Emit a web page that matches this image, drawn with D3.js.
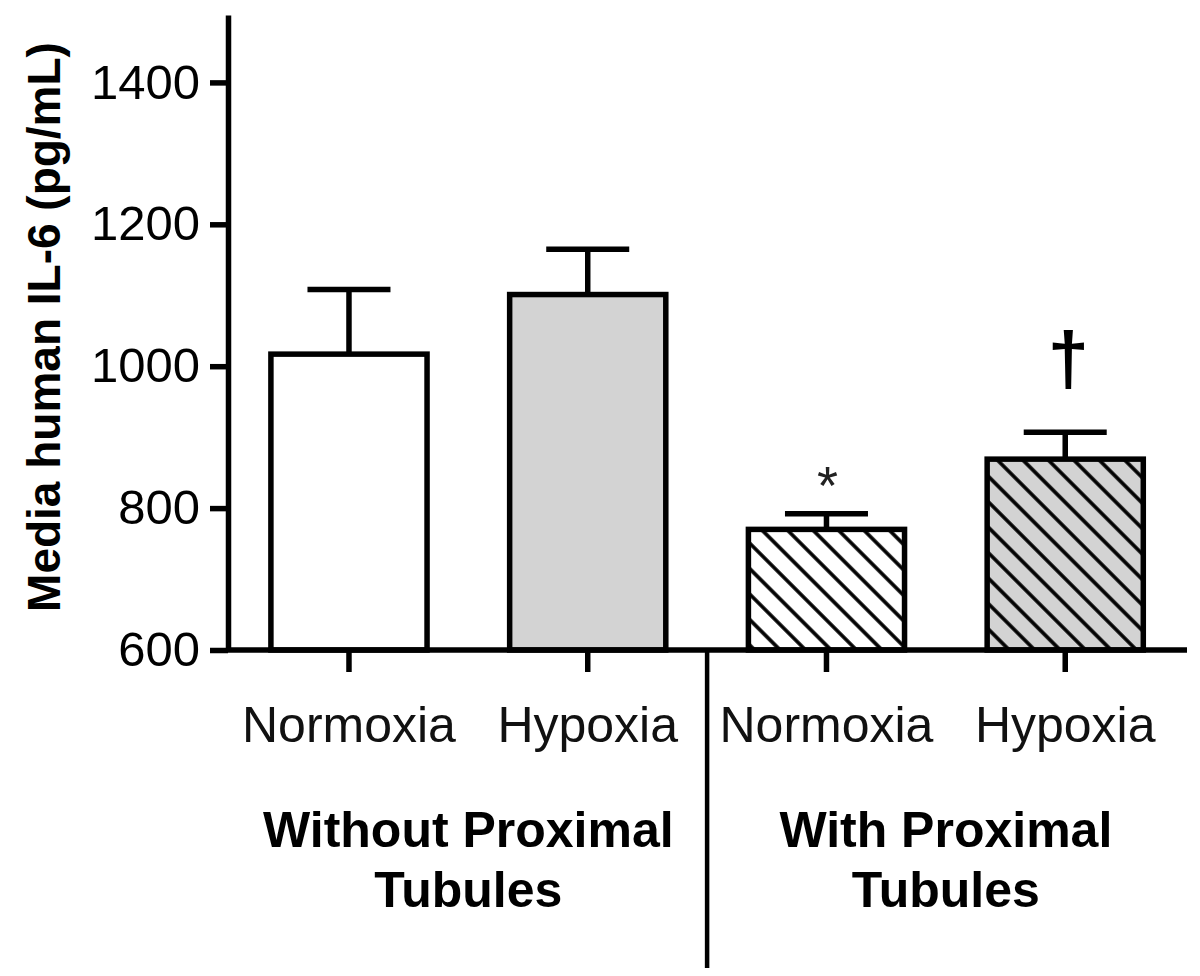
<!DOCTYPE html>
<html>
<head>
<meta charset="utf-8">
<script src="https://cdn.jsdelivr.net/npm/d3@7"></script>
<style>
    html, body { margin: 0; padding: 0; background: #fff; }
    svg { display: block; font-family: "Liberation Sans", Arial, sans-serif; }
</style>
</head>
<body>
<div id="chart"></div>
<script>
// IL-6 bar chart data
const barIds = ['wo-norm', 'wo-hyp', 'w-norm', 'w-hyp'];
const conditionLabels = ['Normoxia', 'Hypoxia', 'Normoxia', 'Hypoxia'];
const means = [1017, 1101, 770, 869];
const sems = [91, 64, 22, 38];
const fills = ['white', 'gray', 'white', 'gray'];
const hatched = [false, false, true, true];
const marks = ['', '', '*', '†'];
const groupLabels = [['Without Proximal', 'Tubules'], ['With Proximal', 'Tubules']];
const yTicks = [600, 800, 1000, 1200, 1400];
const yDomain = [600, 1495];
const yLabel = 'Media human IL-6 (pg/mL)';

const width = 1200;
const height = 976;
const grey = '#d3d3d3';
const lineW = 5.5;
const hatchGap = 18;

const svg = d3.select('#chart').append('svg')
    .attr('width', width)
    .attr('height', height);

// Scales
const x = d3.scaleBand()
    .domain(barIds)
    .range([229.6, 1184.6])
    .paddingInner(0.346)
    .paddingOuter(0.173);

const y = d3.scaleLinear()
    .domain(yDomain)
    .range([650, 15]);

// Hatch patterns for the "with tubules" bars
const defs = svg.append('defs');
['white', 'gray'].forEach(kind => {
    const p = defs.append('pattern')
        .attr('id', `hatch-${kind}`)
        .attr('patternUnits', 'userSpaceOnUse')
        .attr('width', hatchGap)
        .attr('height', hatchGap)
        .attr('patternTransform', 'rotate(-45)');
    p.append('rect')
        .attr('width', hatchGap)
        .attr('height', hatchGap)
        .attr('fill', kind === 'gray' ? grey : '#fff');
    p.append('line')
        .attr('x1', 2).attr('x2', 2)
        .attr('y1', 0).attr('y2', hatchGap)
        .attr('stroke', '#000')
        .attr('stroke-width', 3.6);
});

const fillFor = i => hatched[i]
    ? `url(#hatch-${fills[i]})`
    : (fills[i] === 'gray' ? grey : '#fff');

// Error bars (upper only)
const bars = barIds.map((id, i) => ({ id, i, mean: means[i], sem: sems[i] }));
const cx = d => x(d.id) + x.bandwidth() / 2;

svg.append('g')
    .selectAll('line.err')
    .data(bars)
    .join('line')
    .attr('class', 'err')
    .attr('x1', cx)
    .attr('x2', cx)
    .attr('y1', d => y(d.mean))
    .attr('y2', d => y(d.mean + d.sem))
    .attr('stroke', '#000')
    .attr('stroke-width', lineW);

svg.append('g')
    .selectAll('line.cap')
    .data(bars)
    .join('line')
    .attr('class', 'cap')
    .attr('x1', d => cx(d) - 41.5)
    .attr('x2', d => cx(d) + 41.5)
    .attr('y1', d => y(d.mean + d.sem))
    .attr('y2', d => y(d.mean + d.sem))
    .attr('stroke', '#000')
    .attr('stroke-width', lineW);

// Bars
svg.append('g')
    .selectAll('rect')
    .data(bars)
    .join('rect')
    .attr('x', d => x(d.id))
    .attr('y', d => y(d.mean))
    .attr('width', x.bandwidth())
    .attr('height', d => y(yDomain[0]) - y(d.mean))
    .attr('fill', d => fillFor(d.i))
    .attr('stroke', '#000')
    .attr('stroke-width', lineW);

// Significance marks
const isStar = d => marks[d.i] === '*';
svg.append('g')
    .selectAll('text')
    .data(bars.filter(d => marks[d.i]))
    .join('text')
    .attr('x', d => cx(d) + (isStar(d) ? 1 : 3))
    .attr('y', d => y(d.mean + d.sem) - (isStar(d) ? 10 : 48))
    .attr('text-anchor', 'middle')
    .attr('font-size', d => isStar(d) ? 54 : 74)
    .attr('font-weight', d => isStar(d) ? 'normal' : 'bold')
    .attr('fill', d => isStar(d) ? '#222' : '#000')
    .text(d => marks[d.i]);

// Y axis
const yAxis = d3.axisLeft(y)
    .tickValues(yTicks)
    .tickSize(18)
    .tickSizeOuter(0)
    .tickPadding(10)
    .tickFormat(d3.format('d'));

const yG = svg.append('g')
    .attr('transform', 'translate(228,0)')
    .call(yAxis);
yG.select('.domain').attr('stroke', '#000').attr('stroke-width', lineW);
yG.selectAll('.tick line').attr('stroke', '#000').attr('stroke-width', lineW);
yG.selectAll('.tick text')
    .attr('font-family', '"Liberation Sans", Arial, sans-serif')
    .attr('font-size', 49)
    .attr('fill', '#000');

// Y label
svg.append('text')
    .attr('transform', 'translate(60,327) rotate(-90)')
    .attr('text-anchor', 'middle')
    .attr('font-size', 46)
    .attr('font-weight', 'bold')
    .text(yLabel);

// X axis with ticks at bar centres
const xAxis = d3.axisBottom(x)
    .tickSize(22)
    .tickSizeOuter(0)
    .tickFormat('');

const xG = svg.append('g')
    .attr('transform', 'translate(0,650)')
    .call(xAxis);
xG.select('.domain')
    .attr('d', 'M226,0H1187')
    .attr('stroke', '#000')
    .attr('stroke-width', lineW);
xG.selectAll('.tick line').attr('stroke', '#000').attr('stroke-width', lineW);

// Condition labels
svg.append('g')
    .selectAll('text')
    .data(bars)
    .join('text')
    .attr('x', cx)
    .attr('y', 742)
    .attr('text-anchor', 'middle')
    .attr('font-size', 50)
    .attr('fill', '#111')
    .text(d => conditionLabels[d.i]);

// Divider between the two groups
const divX = (x(barIds[1]) + x(barIds[2]) + x.bandwidth()) / 2;
svg.append('line')
    .attr('x1', divX).attr('x2', divX)
    .attr('y1', 650).attr('y2', 968)
    .attr('stroke', '#000')
    .attr('stroke-width', 4.5);

// Group labels
groupLabels.forEach((lines, g) => {
    const gx = (x(barIds[g * 2]) + x(barIds[g * 2 + 1]) + x.bandwidth()) / 2;
    const t = svg.append('text')
        .attr('text-anchor', 'middle')
        .attr('font-size', 50)
        .attr('font-weight', 'bold');
    lines.forEach((line, k) => {
        t.append('tspan')
            .attr('x', gx)
            .attr('y', 847 + k * 60)
            .text(line);
    });
});
</script>
</body>
</html>
